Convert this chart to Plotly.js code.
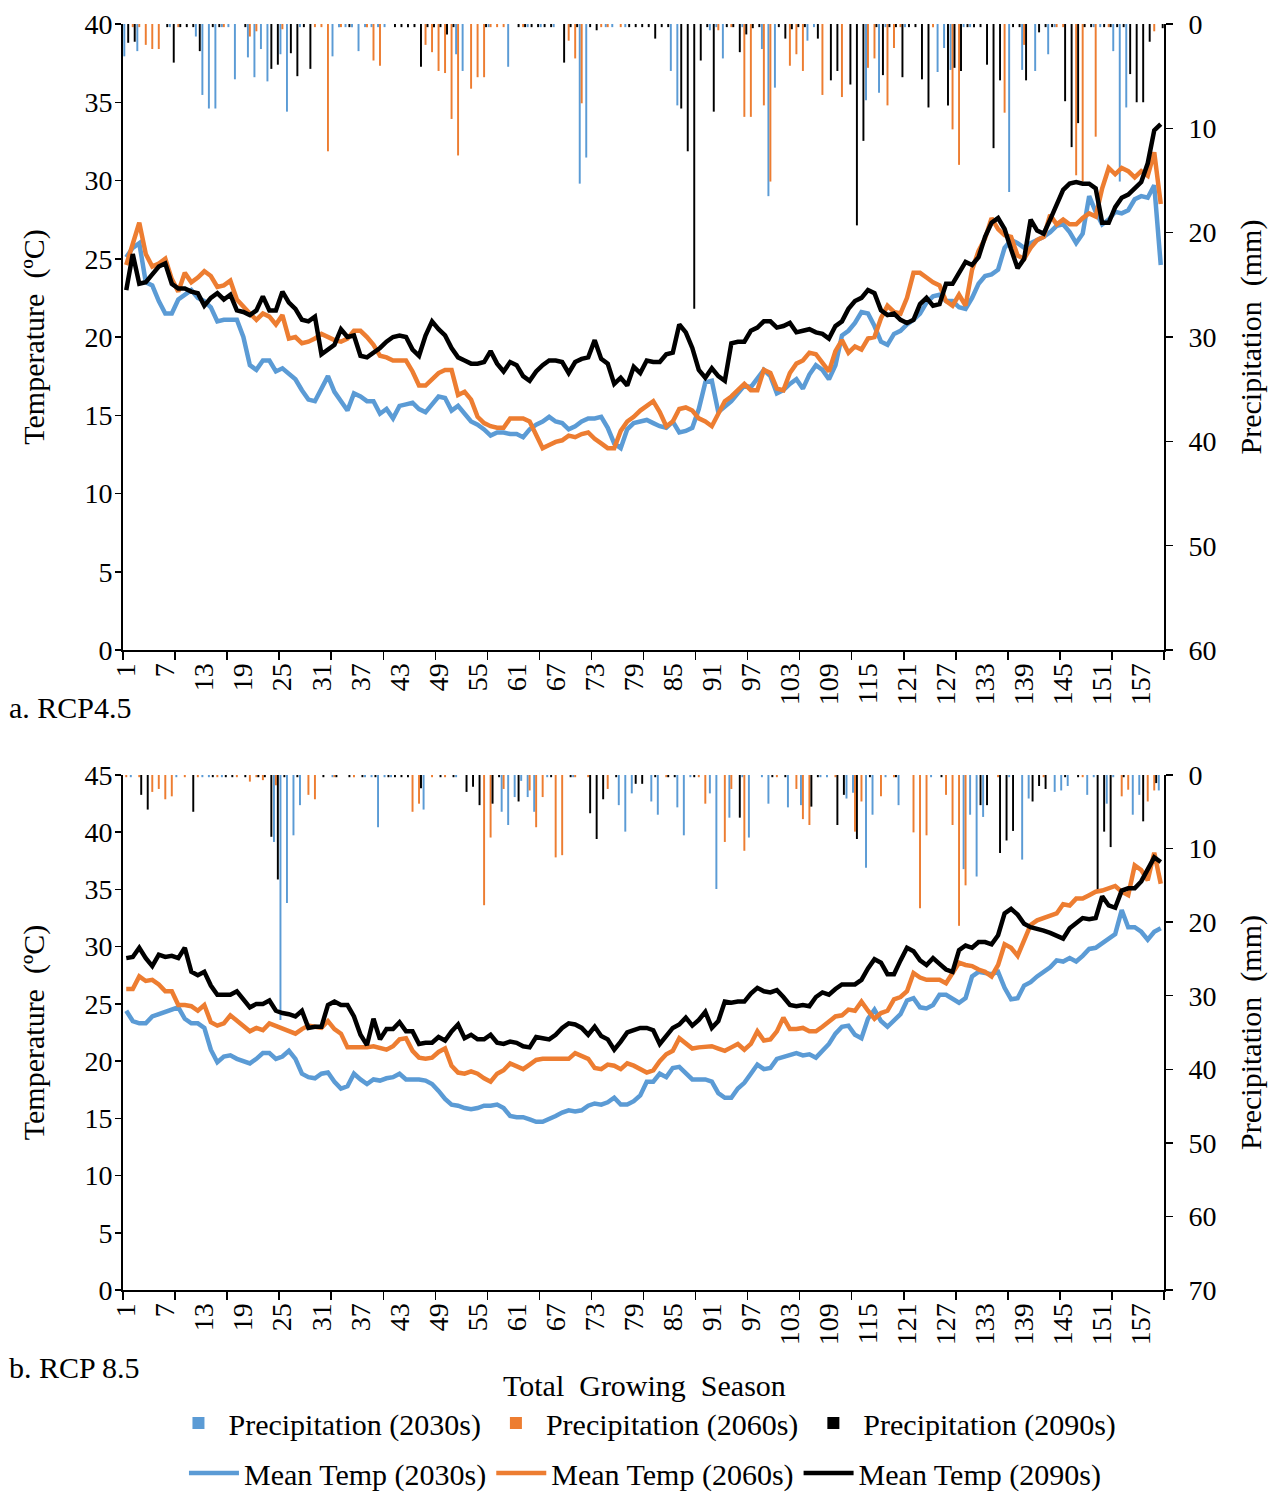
<!DOCTYPE html>
<html><head><meta charset="utf-8">
<script src="https://cdn.plot.ly/plotly-3.0.1.min.js"></script>
<style>html,body{margin:0;padding:0;background:#fff}#chart{width:1278px;height:1494px}</style>
</head><body><div id="chart"></div>
<script>
// Day of the total growing season (categories 1..160)
const days = Array.from({length: 160}, (_, k) => k + 1);
const tickLabels = [1,7,13,19,25,31,37,43,49,55,61,67,73,79,85,91,97,103,109,115,121,127,133,139,145,151,157];

// ---- a. RCP4.5 : mean temperature (°C)
const tA30 = [
25.1,25.7,26.0,23.5,23.3,22.3,21.5,21.5,22.4,22.7, 23.0,22.5,22.3,21.9,21.0,21.1,21.1,21.1,20.0,18.2,
17.9,18.5,18.5,17.8,18.0,17.6,17.3,16.6,16.0,15.9, 16.7,17.5,16.5,15.9,15.3,16.4,16.2,15.9,15.9,15.1,
15.4,14.8,15.6,15.7,15.8,15.4,15.2,15.7,16.2,16.1, 15.3,15.6,15.1,14.6,14.4,14.1,13.7,13.9,13.9,13.8,
13.8,13.6,14.1,14.4,14.6,14.9,14.6,14.5,14.1,14.3, 14.6,14.8,14.8,14.9,14.2,13.2,12.9,14.1,14.5,14.6,
14.7,14.5,14.3,14.2,14.6,13.9,14.0,14.2,15.4,17.1, 17.2,15.2,15.6,15.9,16.4,16.9,16.8,17.3,17.9,17.5,
16.4,16.6,17.0,17.3,16.7,17.6,18.2,17.9,17.3,18.2, 20.1,20.4,20.9,21.6,21.5,20.7,19.7,19.5,20.2,20.4,
20.8,21.1,21.5,22.2,22.6,22.7,22.3,22.3,21.9,21.8, 22.5,23.4,23.9,24.0,24.3,25.7,26.2,26.0,25.7,26.0,
26.2,26.4,26.7,27.1,27.2,26.7,26.0,26.6,29.0,28.0, 27.2,27.5,28.0,27.9,28.1,28.8,29.0,28.9,29.7,24.6];
const tA60 = [
24.6,25.9,27.3,25.3,24.5,24.7,25.0,23.7,22.9,24.1, 23.5,23.8,24.2,23.9,23.2,23.3,23.6,22.4,21.9,21.5,
21.1,21.5,21.3,20.8,21.4,19.9,20.0,19.6,19.7,19.9, 20.2,20.0,19.8,19.7,19.9,20.4,20.4,20.0,19.5,18.8,
18.7,18.5,18.5,18.5,17.8,16.9,16.9,17.3,17.7,17.9, 17.9,16.3,16.5,16.0,14.9,14.5,14.3,14.2,14.2,14.8,
14.8,14.8,14.6,13.7,12.9,13.1,13.3,13.4,13.7,13.6, 13.8,13.9,13.5,13.2,12.9,12.9,14.0,14.6,14.9,15.3,
15.6,15.9,15.2,14.3,14.6,15.4,15.5,15.3,14.8,14.6, 14.3,15.1,15.9,16.2,16.6,17.0,16.6,16.6,17.9,17.7,
16.7,16.6,17.7,18.3,18.5,19.0,18.9,18.3,17.8,19.1, 19.8,19.0,19.4,19.2,19.9,20.0,21.2,22.0,21.6,21.5,
22.5,24.1,24.1,23.8,23.5,23.3,22.3,22.0,22.7,22.0, 24.3,25.5,26.3,27.6,26.9,26.5,26.4,25.2,25.0,25.7,
26.2,26.4,27.8,27.2,27.5,27.2,27.2,27.6,27.9,27.7, 29.5,30.8,30.4,30.8,30.6,30.2,30.6,30.3,31.8,28.5];
const tA90 = [
23.0,25.3,23.4,23.5,24.0,24.5,24.7,23.4,23.1,23.1, 22.9,22.8,22.0,22.5,22.8,22.4,22.7,21.7,21.6,21.4,
21.7,22.6,21.7,21.7,22.9,22.2,21.8,21.1,21.0,21.3, 18.9,19.2,19.5,20.5,20.0,20.1,18.8,18.7,19.0,19.3,
19.7,20.0,20.1,20.0,19.2,18.8,20.1,21.0,20.5,20.1, 19.3,18.7,18.5,18.3,18.3,18.4,19.1,18.3,17.8,18.4,
18.2,17.5,17.2,17.8,18.2,18.5,18.5,18.4,17.7,18.4, 18.6,18.7,19.8,18.6,18.3,17.0,17.4,16.9,18.1,17.7,
18.5,18.4,18.4,18.9,19.0,20.8,20.3,19.3,17.9,17.4, 18.0,17.5,17.2,19.6,19.7,19.7,20.4,20.6,21.0,21.0,
20.6,20.7,20.9,20.3,20.4,20.5,20.3,20.2,19.9,20.7, 21.0,21.8,22.3,22.5,23.0,22.8,21.7,21.4,21.5,21.1,
20.9,21.1,22.1,22.5,22.0,22.1,23.4,23.4,24.1,24.8, 24.6,25.1,26.4,27.3,27.6,26.9,25.6,24.4,25.0,27.5,
26.8,26.6,27.5,28.4,29.4,29.8,29.9,29.8,29.8,29.5, 27.3,27.3,28.3,28.9,29.1,29.5,29.9,31.1,33.2,33.6];

// ---- a. RCP4.5 : precipitation (mm)
const pA30 = [
3.1,0,2.6,0,0,0,0,0.3,0,0, 0,1.2,6.8,8.1,8.1,0.3,0.3,5.3,0,3.2,
5.1,2.4,5.5,0,2.9,8.4,0,0.3,0,0, 0,0,3.1,0.3,0.3,0.3,2.6,0.3,0.3,0.3,
0.3,0,0,0,0,0,0,0,0,0, 0,2.9,4.5,0,0,0,0.3,0,0,4.1,
0,0,0.3,0,0.3,0,0.3,0,0,0, 15.3,12.8,0,0,0.3,0.3,0,0.3,0,0,
0,0,0,0,4.5,7.8,0,0,0,0, 0.6,0.3,3.3,0,0,0.3,0,0,2.4,16.5,
6.1,0,0,0,0,1.6,0.3,0,0,0, 0,0,0,0,7.3,0,6.6,0.3,0,0,
0.3,0,0,0,0,4.6,2.3,4.4,0,0.3, 0.3,0,0,0,0,0,16.1,0,4.4,0,
4.5,0,2.9,0.3,0,0,0,0,0,0.3, 0.3,0,2.6,15.1,8.0,0,0,0,0,0];
const pA60 = [
0,0.3,0.3,2.0,2.4,2.4,0,0,0.3,0, 0,0,0,0,0,0.3,0,0,0,1.2,
0.7,0,0,0,0.5,0,0,0,0,0.3, 0.3,12.2,0,0.3,0,0,0,0.3,3.5,4.0,
0,0,0,0,0,0,2.0,2.7,4.5,4.7, 9.1,12.6,0,6.2,5.1,5.1,0.3,0.3,0.3,0,
0,0.3,0,0,0,0,0,0,1.6,3.3, 7.6,0,0,0.3,0.3,0,0.3,0,0,0,
0,0,0,0,0,0,0,0,0,0, 0,0.6,0,0.3,0,8.9,8.9,0,7.8,15.1,
0,0,4.0,2.9,4.5,0,0,6.8,0,0, 7.0,0,0,0,4.2,3.3,0,7.8,2.3,0.3,
0,0,0,0,0.3,0,0,10.1,13.5,0, 0,0,0,0,0,8.5,0,0,2.0,0,
0,0,0,0.3,0.3,0,14.5,15.1,0,10.8, 0,0.3,0,0,0,0,0,0,0.7,0];
const pA90 = [
1.8,1.7,0,0,0,0,0.3,3.7,0.3,0.3, 0.3,2.6,0,0.3,0.3,0,0,0,0.3,0,
0,0,4.3,3.9,0,2.8,5.0,0.3,4.3,0, 0,0,0,0,0.3,0,0,0,0,0,
0,0.3,0.3,0.3,0.3,4.1,0.3,0.3,0.3,1.0, 0.3,0,0,0,0,0.3,0,0,0,0,
0.3,0.3,0.3,0.3,0.3,0.3,0,3.7,0.3,0.3, 0,0.3,0.6,0,0,0,0,0.3,0.3,0.3,
0.3,1.4,0.3,0.3,0,8.1,12.2,27.3,3.5,0.3, 8.4,0,0.3,0.3,2.7,1.0,0.4,0.3,0,0,
0.3,1.4,0.5,0.3,0.3,0,1.4,0,5.4,4.5, 0,5.8,19.3,11.2,0,0.3,4.9,0.3,0.3,5.1,
0.3,0.3,5.3,8.0,0,0,7.8,4.2,4.5,0.3, 0.3,0.3,3.9,11.9,5.4,0,0.3,0.3,5.4,0,
0.8,0.3,0.3,0,7.4,11.8,9.5,0.3,0.3,0, 0.3,0.3,0.3,0.3,4.8,7.5,7.5,1.7,0,0.4];

// ---- b. RCP 8.5 : mean temperature (°C)
const tB30 = [
24.4,23.5,23.3,23.3,23.9,24.1,24.3,24.6,24.7,23.7, 23.3,23.3,22.9,21.0,19.9,20.4,20.5,20.2,20.0,19.8,
20.2,20.7,20.7,20.2,20.4,20.9,20.2,18.9,18.6,18.5, 18.9,19.0,18.2,17.6,17.8,18.9,18.4,18.0,18.4,18.3,
18.5,18.6,18.9,18.4,18.4,18.4,18.3,18.0,17.4,16.7, 16.2,16.1,15.9,15.8,15.9,16.1,16.1,16.2,15.9,15.2,
15.1,15.1,14.9,14.7,14.7,14.9,15.2,15.5,15.7,15.6, 15.7,16.1,16.3,16.2,16.4,16.8,16.2,16.2,16.5,17.0,
18.2,18.2,18.9,18.6,19.4,19.5,19.0,18.4,18.4,18.4, 18.2,17.2,16.8,16.8,17.6,18.1,18.9,19.7,19.3,19.4,
20.2,20.4,20.6,20.7,20.5,20.6,20.3,20.9,21.5,22.4, 23.0,23.1,22.3,22.0,23.7,24.5,23.5,23.0,23.5,24.1,
25.3,25.5,24.7,24.6,24.9,25.8,25.8,25.5,25.1,25.5, 27.4,27.8,27.7,27.6,27.8,26.4,25.4,25.5,26.6,26.9,
27.4,27.8,28.2,28.8,28.7,29.0,28.7,29.2,29.8,29.9, 30.3,30.7,31.1,33.2,31.7,31.7,31.3,30.6,31.3,31.6];
const tB60 = [
26.3,26.3,27.4,27.0,27.1,26.7,26.1,26.1,24.9,24.9, 24.8,24.4,24.9,23.4,23.1,23.3,24.0,23.5,23.1,22.6,
22.9,22.7,23.3,23.1,22.9,22.6,22.4,22.8,23.1,23.0, 22.9,23.5,22.8,22.4,21.2,21.2,21.2,21.2,21.3,21.1,
21.0,21.3,21.9,22.0,20.9,20.3,20.2,20.3,20.8,21.1, 19.6,19.0,18.9,19.1,18.9,18.5,18.2,18.9,19.2,19.8,
19.5,19.3,19.7,20.1,20.2,20.2,20.2,20.2,20.2,20.7, 20.5,20.2,19.4,19.3,19.7,19.6,19.3,19.8,19.6,19.3,
19.0,19.2,20.0,20.6,20.9,22.0,21.5,21.1,21.2,21.3, 21.3,21.1,20.9,21.2,21.5,21.0,21.5,22.6,21.8,21.9,
22.6,23.8,22.8,22.8,22.9,22.6,22.6,23.0,23.5,23.9, 24.0,24.5,24.4,25.2,24.4,23.7,24.2,24.4,25.4,25.6,
26.1,27.7,27.3,27.1,27.1,27.1,26.8,27.7,28.6,28.4, 28.3,28.0,27.8,27.4,28.4,30.2,29.9,29.2,30.6,31.9,
32.3,32.5,32.7,32.9,33.7,33.6,34.2,34.2,34.5,34.8, 34.9,35.1,35.3,34.8,34.5,37.1,36.7,35.8,38.2,35.5];
const tB90 = [
29.0,29.1,29.9,29.0,28.3,29.3,29.1,29.2,29.0,29.9, 27.8,27.5,27.8,26.6,25.8,25.8,25.8,26.1,25.4,24.7,
25.0,25.0,25.3,24.4,24.2,24.1,23.9,24.4,22.9,23.0, 23.0,24.9,25.2,24.9,24.9,23.9,22.3,21.4,23.7,21.9,
22.8,22.8,23.4,22.6,22.6,21.5,21.6,21.6,22.1,21.8, 22.6,23.2,22.0,22.3,21.9,21.9,22.3,21.6,21.5,21.7,
21.6,21.3,21.2,22.1,22.0,21.9,22.3,22.9,23.3,23.2, 22.9,22.3,23.0,22.2,21.9,21.0,21.7,22.5,22.7,22.9,
22.9,22.7,21.5,22.2,22.9,23.2,23.8,23.1,23.6,24.3, 22.9,23.5,25.2,25.1,25.2,25.2,25.9,26.4,26.1,26.0,
26.2,25.6,24.9,24.8,24.9,24.8,25.6,26.0,25.8,26.3, 26.7,26.7,26.7,27.1,28.1,28.9,28.6,27.6,27.6,28.8,
29.9,29.6,28.8,28.4,29.0,28.5,28.0,27.8,29.7,30.1, 29.9,30.4,30.4,30.2,31.0,32.9,33.3,32.8,32.0,31.7,
31.6,31.4,31.2,31.0,30.7,31.6,32.0,32.5,32.4,32.5, 34.4,33.6,33.4,34.9,35.1,35.1,35.7,36.8,37.8,37.4];

// ---- b. RCP 8.5 : precipitation (mm)
const pB30 = [
0,0.3,0,0,0,0,0,0,0.3,0, 0,0,0.3,0.3,0,0.3,0,0,0,0,
0,0,0,9.1,33.3,17.4,8.2,4.1,0,0, 0,0,0.3,0,0,0,0,0.3,0.3,7.1,
0.3,0.3,0,0,0,0,4.7,0,0,0, 0,0.3,0,0,0,0,0,0,5.0,6.8,
3.0,0.8,3.0,5.0,0,0.3,0,0,0,0.3, 0,0,0,0,0,0,4.1,7.7,2.5,0,
0,3.6,5.4,0,0,4.4,8.2,0.3,0,0, 2.5,15.5,0,5.8,0,0.3,8.5,0,0.3,3.9,
0,0,4.4,0,4.1,0,0,0.3,0.3,0, 0,3.2,2.4,0,12.6,5.4,0,0.3,0,4.1,
0,0,0,0,0.3,0,0,0,0,12.8, 5.4,13.8,5.7,0,0,0,0.3,0,11.5,3.2,
0,0,0,2.3,2.1,1.5,0,0,2.7,0.3, 0,3.9,0.3,0,0,5.4,2.7,0,0,2.1];
const pB60 = [
0.3,0,0.3,0,2.3,1.9,3.3,2.9,0,0.3, 0,0.3,0,0,0.3,0,0,0.3,0,0.9,
0.3,0.7,0,1.4,0,0,0,0,2.7,3.3, 0,0,0.3,0,0,0.3,0,0,0,0,
0,0,0,0,5.0,3.9,0,0.3,0,0.3, 0,0,0,0,0,17.7,8.5,0,1.9,0,
0,0,2.1,7.1,3.0,0,11.2,10.9,0,0.3, 0,0.3,0,0,1.9,0,0,0,0,0,
0,0,0,0.3,0,0,0,0,0.3,3.9, 0,0,9.1,1.9,0,10.3,0,0,0,0,
0.3,0,0,1.9,6.0,6.8,0,0,0,0.3, 0,0,7.7,3.6,0,0,2.9,0,0.3,0,
0,7.8,18.1,8.2,0,0,2.7,6.8,20.5,15.0, 0,0,0,0,0.3,0,0,0,0,0,
0,0.3,0,0,0,0,0,0.3,0,0, 0,0,0,2.9,2.0,0,0,3.6,2.1,0];
const pB90 = [
0,0,2.7,4.7,0,0,0,0,0,0, 5.0,0,0,0.3,0,0.3,0.3,0,0.3,0,
0.3,0.3,8.4,14.2,0.3,0,0.3,0,0,0, 0.3,0,0.3,0,0.3,0,0.3,0,0.3,0,
0.3,0.3,0.3,0.3,0,1.8,0,0,0.3,0, 0.3,0,2.3,1.6,4.1,0,3.9,0.3,0,0,
3.6,0,0,0,0,0.3,0,0,0.3,0, 0,5.2,8.7,3.3,0,0.3,0,0,1.2,1.2,
0,0.3,0,0.3,0.3,0,0,0.3,0,0, 0,0,0,0,5.8,0,0,0,0,0.3,
0,0.3,0,0,0,4.3,0.3,0,0,6.8, 2.7,0,8.7,0,0.3,0,0,0,0.3,0,
0,0,0,0,0,0.3,0,0,0,0, 0,4.1,4.1,0,10.6,8.9,7.6,0,0,3.6,
1.5,1.9,0,0,0.3,0,0.3,0,0,15.7, 7.7,9.8,0,0.3,0,0,6.3,0,1.1,0];

const seriesNames = ['2030s', '2060s', '2090s'];
const colors = ['#5B9BD5', '#ED7D31', '#000000'];
const FONT = 'Liberation Serif';

const panels = [
  {x: 'x', yP: 'y', yT: 'y2', precip: [pA30, pA60, pA90], temp: [tA30, tA60, tA90], legend: true},
  {x: 'x2', yP: 'y3', yT: 'y4', precip: [pB30, pB60, pB90], temp: [tB30, tB60, tB90], legend: false}
];

const data = [];
panels.forEach(p => {
  p.precip.forEach((vals, k) => data.push({
    type: 'bar', x: days, y: vals, xaxis: p.x, yaxis: p.yP,
    name: 'Precipitation (' + seriesNames[k] + ')', legend: 'legend',
    legendgroup: 'p' + k, showlegend: p.legend,
    marker: {color: colors[k], line: {width: 0}}
  }));
});
panels.forEach(p => {
  p.temp.forEach((vals, k) => data.push({
    type: 'scatter', mode: 'lines', x: days, y: vals, xaxis: p.x, yaxis: p.yT,
    name: 'Mean Temp (' + seriesNames[k] + ')', legend: 'legend2',
    legendgroup: 't' + k, showlegend: p.legend,
    line: {color: colors[k], width: 4.5}
  }));
});

const tickFont = {family: FONT, size: 28, color: '#000'};
const titleFont = {family: FONT, size: 30, color: '#000'};
function xAxis(anchor) {
  return {
    anchor: anchor, domain: [0, 1], range: [0.5, 160.5], type: 'linear',
    tickmode: 'array', tickvals: tickLabels, ticktext: tickLabels.map(String),
    tickangle: -90, ticks: '', tickfont: tickFont,
    minor: {tick0: 0.5, dtick: 8, ticks: 'outside', ticklen: 8, tickwidth: 1.5, tickcolor: '#000'},
    showline: true, linecolor: '#000', linewidth: 2, showgrid: false, zeroline: false
  };
}
function precipAxis(domain, anchor, maxP) {
  return {
    domain: domain, anchor: anchor, side: 'right', range: [maxP, 0], tick0: 0, dtick: 10,
    ticks: 'outside', ticklen: 7, tickwidth: 1.5, tickcolor: '#000', tickfont: tickFont,
    ticklabelstandoff: 10,
    showline: true, linecolor: '#000', linewidth: 2, showgrid: false, zeroline: false,
    title: {text: 'Precipitation  (mm)', font: titleFont, standoff: 24}
  };
}
function tempAxis(over, anchor, maxT) {
  return {
    overlaying: over, anchor: anchor, side: 'left', range: [0, maxT], tick0: 0, dtick: 5,
    ticks: 'outside', ticklen: 6, tickwidth: 1.5, tickcolor: '#000', tickfont: tickFont,
    ticklabelstandoff: -3,
    showline: true, linecolor: '#000', linewidth: 2, showgrid: false, zeroline: false,
    title: {text: 'Temperature  (ºC)', font: titleFont, standoff: 31}
  };
}

const legendBase = {
  orientation: 'h', xref: 'paper', yref: 'container',
  x: 0.5014, xanchor: 'center', yanchor: 'middle',
  font: {family: FONT, size: 30, color: '#000'}, itemwidth: 50,
  bgcolor: 'rgba(0,0,0,0)', traceorder: 'normal'
};

const layout = {
  width: 1278, height: 1494,
  margin: {l: 123, r: 114, t: 24, b: 204},
  paper_bgcolor: '#fff', plot_bgcolor: '#fff',
  font: {family: FONT, color: '#000'},
  barmode: 'group', bargap: 0.1, bargroupgap: 0,
  xaxis: xAxis('y'),
  yaxis: precipAxis([0.5055, 1], 'x', 60),
  yaxis2: tempAxis('y', 'x', 40),
  xaxis2: xAxis('y3'),
  yaxis3: precipAxis([0, 0.4068], 'x2', 70),
  yaxis4: tempAxis('y3', 'x2', 45),
  legend: Object.assign({}, legendBase, {y: 0.0475}),
  legend2: Object.assign({}, legendBase, {y: 0.0141}),
  annotations: [
    {text: 'a. RCP4.5', xref: 'paper', yref: 'paper', x: -0.1115, y: 0.4605,
     xanchor: 'left', yanchor: 'middle', showarrow: false, font: {family: FONT, size: 30, color: '#000'}},
    {text: 'b. RCP 8.5', xref: 'paper', yref: 'paper', x: -0.1115, y: -0.0616,
     xanchor: 'left', yanchor: 'middle', showarrow: false, font: {family: FONT, size: 30, color: '#000'}},
    {text: 'Total  Growing  Season', xref: 'paper', yref: 'paper', x: 0.5014, y: -0.0758,
     xanchor: 'center', yanchor: 'middle', showarrow: false, font: {family: FONT, size: 30, color: '#000'}}
  ],
  showlegend: true
};

Plotly.newPlot('chart', data, layout, {displayModeBar: false, staticPlot: true});
</script>
</body></html>
